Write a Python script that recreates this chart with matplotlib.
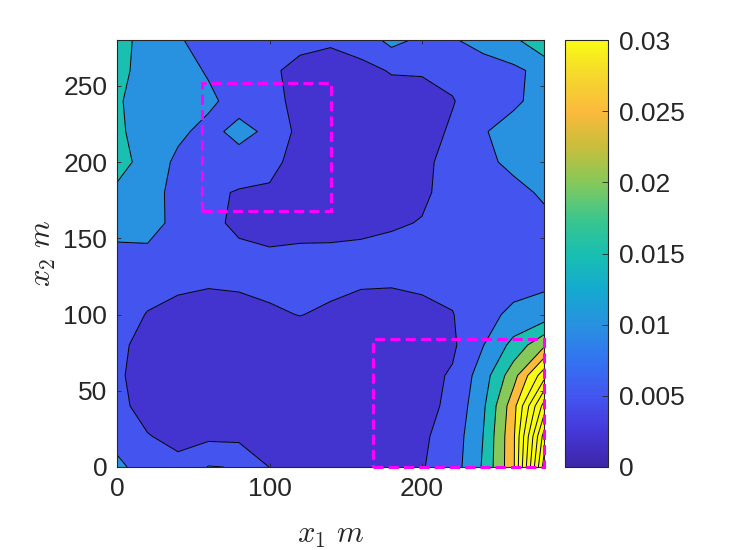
import numpy as np
import matplotlib; matplotlib.use('Agg')
import matplotlib.pyplot as plt
from matplotlib.colors import LinearSegmentedColormap, Normalize
from matplotlib.cm import ScalarMappable
from matplotlib.patches import Rectangle

plt.rcParams.update({'font.family': 'Liberation Sans', 'font.size': 19,
                     'mathtext.fontset': 'cm'})

# grid (m)
x_m = [0, 20, 40, 60, 80, 100, 120, 140, 160, 180, 200, 220, 240, 260, 280]
y_m = [0, 20, 40, 60, 80, 100, 120, 140, 160, 180, 200, 220, 240, 260, 280]

# field values x 1e-3, one list per x column, from y=0 up to y=280
col_x0   = [12, 7, 6.5, 5.8, 5.8, 7, 7.5, 8.5, 12.5, 14, 17, 15.8, 15.5, 15.6, 17]
col_x20  = [6, 5.3, 3, 2.8, 3.8, 4.8, 6.5, 9, 12, 12.5, 13, 13, 13, 14.2, 13]
col_x40  = [6.5, 3.5, 2, 2.3, 2.8, 3.6, 5.8, 7, 8.5, 8, 9, 11, 12, 12, 10.5]
col_x60  = [10.2, 4, 2, 2.2, 2.5, 3.3, 5.3, 6.5, 6.2, 6, 8, 8.5, 11, 9.5, 8]
col_x80  = [9.8, 3.8, 2.2, 2.2, 2.6, 3.6, 5.5, 6, 4, 4.6, 8, 11.5, 8, 7.5, 7]
col_x100 = [4.9, 3, 2.3, 2.4, 2.8, 4.5, 5.8, 5.6, 2.8, 4.3, 6.5, 9, 6.3, 5.6, 6.5]
col_x120 = [3.5, 2.5, 2.3, 2.5, 3.0, 5.1, 6.3, 6, 3.0, 2.5, 3, 3.5, 3.8, 4.0, 6]
col_x140 = [3, 2.5, 2.3, 2.5, 3.0, 4.4, 5.8, 6.1, 3.0, 2, 2.3, 2.5, 3.0, 3.5, 5.5]
col_x160 = [3, 2.6, 2.4, 2.5, 2.8, 3.6, 5.3, 6.3, 3.5, 2, 2.3, 2.5, 3.0, 3.8, 7]
col_x180 = [3.3, 3, 2.7, 2.8, 2.8, 3.6, 5.2, 6.3, 4.5, 2.3, 2.5, 2.8, 3.2, 5.3, 11.5]
col_x200 = [4.7, 4.3, 3.6, 3.5, 3.2, 3.9, 5.6, 6.5, 5.2, 4.3, 4.0, 3.5, 3.8, 5.3, 9]
col_x220 = [7.5, 7, 6, 5.5, 4.2, 4.8, 6.3, 6.5, 6.5, 6.5, 6.5, 5.5, 4.8, 6, 9.5]
col_x240 = [15.5, 15, 14, 12.5, 9.8, 8.5, 7.5, 6.8, 7.5, 8.5, 9, 9.7, 7, 7.5, 12]
col_x260 = [29, 29, 28, 23, 16.5, 11, 8.5, 7, 8, 8.8, 11, 11.5, 9.3, 9, 14]
col_x280 = [67, 62, 52, 38, 24, 12, 9.3, 7.5, 9, 10.6, 12, 12, 11.5, 11.5, 19]

levels = [0.005, 0.01, 0.015, 0.02, 0.025, 0.03, 0.035, 0.04, 0.045,
          0.05, 0.055, 0.06, 0.065]
cbar_ticks = [0, 0.005, 0.01, 0.015, 0.02, 0.025, 0.03]
cbar_labels = ['0', '0.005', '0.01', '0.015', '0.02', '0.025', '0.03']

# dashed regions: (x0, y0, width, height)
regions = [(56, 168, 84, 84), (168, 0, 112, 84)]

cols = [col_x0, col_x20, col_x40, col_x60, col_x80, col_x100, col_x120, col_x140,
        col_x160, col_x180, col_x200, col_x220, col_x240, col_x260, col_x280]
Z = np.array(cols).T * 1e-3
X, Y = np.meshgrid(x_m, y_m)

# parula-like colormap
parula = LinearSegmentedColormap.from_list('parula', [
    (0.000, '#3E26A8'), (0.083, '#4538D8'), (0.167, '#4456F0'),
    (0.250, '#3274F0'), (0.333, '#2891E0'), (0.417, '#14AAD0'),
    (0.500, '#19BFB0'), (0.583, '#3CC68C'), (0.667, '#86C95A'),
    (0.750, '#C8BE3C'), (0.833, '#FBBA3C'), (0.917, '#F5D72D'),
    (1.000, '#F9FB14')])
cmin, cmax = 0.0, 0.03

# MATLAB-style fill: each band takes the colour of its lower level
bounds = [Z.min()] + levels + [Z.max() + 1e-6]
band_cols = [parula(float(np.clip((b - cmin) / (cmax - cmin), 0.0, 1.0)))
             for b in bounds[:-1]]

fig = plt.figure(figsize=(7.47, 5.5), dpi=100)
ax = fig.add_axes([117/747, 83/550, 427/747, 427/550])
ax.contourf(X, Y, Z, levels=bounds, colors=band_cols, antialiased=True)
ax.contour(X, Y, Z, levels=levels, colors='k', linewidths=0.7)

for (rx, ry, rw, rh) in regions:
    ax.add_patch(Rectangle((rx, ry), rw, rh, fill=False, edgecolor='#FF00FF',
                           lw=2.2, linestyle=(0, (3.3, 1.7)), zorder=5, clip_on=False))

ax.set_xlim(0, 280)
ax.set_ylim(0, 280)
ax.set_xticks([0, 100, 200])
ax.set_yticks([0, 50, 100, 150, 200, 250])
ax.tick_params(direction='in', top=True, right=True, length=3, width=0.6,
               colors='#262626', pad=7)
for s in ax.spines.values():
    s.set_color('#262626'); s.set_linewidth(0.8)
ax.set_xlabel(r'$x_1\ m$', fontsize=22, labelpad=14, color='#262626')
ax.set_ylabel(r'$x_2\ m$', fontsize=22, labelpad=4, color='#262626')

cax = fig.add_axes([565/747, 83/550, 43/747, 427/550])
cb = fig.colorbar(ScalarMappable(norm=Normalize(cmin, cmax), cmap=parula),
                  cax=cax, ticks=cbar_ticks)
cb.ax.set_yticklabels(cbar_labels)
cax.tick_params(direction='in', length=4, width=0.6, colors='#262626', pad=8)
cb.outline.set_edgecolor('#262626')
cb.outline.set_linewidth(0.8)

fig.savefig('out.png', dpi=100)
